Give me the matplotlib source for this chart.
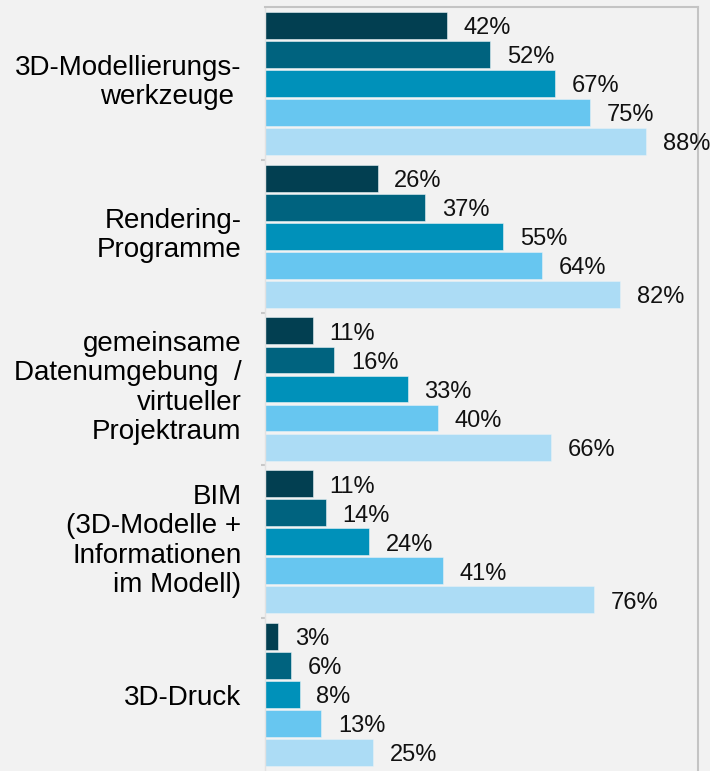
import numpy as np
import matplotlib.pyplot as plt
import matplotlib.transforms as mtransforms

plt.rcParams['font.family'] = ['Liberation Sans', 'DejaVu Sans']

categories = ['3D-Modellierungs-\nwerkzeuge ',
              'Rendering-\nProgramme',
              'gemeinsame\nDatenumgebung  /\nvirtueller\nProjektraum',
              'BIM\n(3D-Modelle +\nInformationen\nim Modell)',
              '3D-Druck']
# five series per category, top bar first
series = [
    [42, 26, 11, 11, 3],
    [52, 37, 16, 14, 6],
    [67, 55, 33, 24, 8],
    [75, 64, 40, 41, 13],
    [88, 82, 66, 76, 25],
]
colors = ['#023f51', '#00637f', '#0091ba', '#67c6f0', '#acdcf5']

BG = '#f2f2f2'
fig = plt.figure(figsize=(7.10, 7.71), dpi=100, facecolor=BG)
ax = fig.add_axes([265 / 710, 0.0, 433 / 710, 764 / 771])
ax.set_facecolor(BG)

pitch = 0.19
bar_h = 0.176
y = np.arange(len(categories))
for j, vals in enumerate(series):
    pos = y + (j - 2) * pitch
    ax.barh(pos, vals, height=bar_h, color=colors[j],
            edgecolor='#e8f2f6', linewidth=0.4)
    for p, v in zip(pos, vals):
        ax.annotate(f'{v}%', (v, p), xytext=(12, -2),
                    textcoords='offset points', va='center', ha='left',
                    fontsize=17, color='#111111')

ax.set_xlim(0, 100)
ax.set_ylim(len(categories) - 0.5, -0.5)
ax.set_xticks([])
ax.set_yticks(y)
ax.set_yticklabels(categories, fontsize=20, linespacing=1.17,
                   multialignment='right')
ax.tick_params(axis='y', which='major', length=0, pad=17)
# multi-line labels sit a little higher in the original
shift = mtransforms.ScaledTranslation(0, 4 / 72, fig.dpi_scale_trans)
for lab, name in zip(ax.get_yticklabels(), categories):
    if '\n' in name:
        lab.set_transform(lab.get_transform() + shift)
ax.set_yticks(np.arange(0.5, len(categories) - 0.5), minor=True)
ax.tick_params(axis='y', which='minor', length=3, width=1.5,
               color='#c8c8c8')

ax.spines['bottom'].set_visible(False)
for s in ['top', 'right']:
    ax.spines[s].set_color('#c4c4c4')
    ax.spines[s].set_linewidth(1.5)
ax.spines['left'].set_color('#e2e2e2')
ax.spines['left'].set_linewidth(1.0)

fig.savefig('out.png', dpi=100, facecolor=BG)
